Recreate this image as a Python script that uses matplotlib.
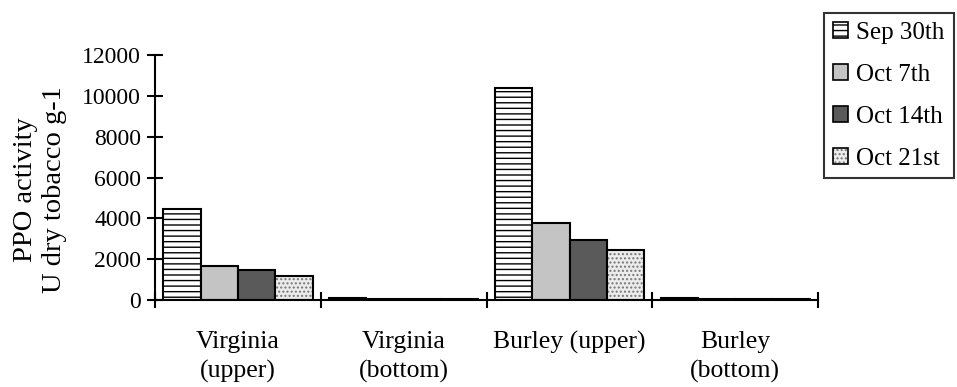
import matplotlib
matplotlib.use("Agg")
import matplotlib.pyplot as plt
import numpy as np

categories = ["Virginia\n(upper)", "Virginia\n(bottom)", "Burley (upper)", "Burley\n(bottom)"]
series_names = ["Sep 30th", "Oct 7th", "Oct 14th", "Oct 21st"]
sep30 = [4450, 90, 10400, 100]
oct7 = [1650, 40, 3750, 60]
oct14 = [1450, 40, 2950, 50]
oct21 = [1200, 70, 2450, 60]
yticks = [0, 2000, 4000, 6000, 8000, 10000, 12000]

plt.rcParams['font.family'] = ['Liberation Serif', 'DejaVu Serif']
plt.rcParams['hatch.linewidth'] = 1.0

fig = plt.figure(figsize=(9.57, 3.87), dpi=100)
ax = fig.add_axes([0.162, 0.2248, 0.693, 0.633])

series = [sep30, oct7, oct14, oct21]
faces = ['white', '#c4c4c4', '#5a5a5a', '#ececec']
hatches = ['---', '', '', '....']
hatch_colors = ['black', 'black', 'black', '#777777']
bw = 0.225
x = np.arange(len(categories))
for i, (vals, name) in enumerate(zip(series, series_names)):
    pos = x + 0.05 + bw * i + bw / 2
    bars = ax.bar(pos, vals, width=bw, facecolor=faces[i], edgecolor='black',
                  linewidth=1.5, hatch=hatches[i], label=name)
    for b in bars:
        b._hatch_color = matplotlib.colors.to_rgba(hatch_colors[i])

ax.set_xlim(0, 4)
ax.set_ylim(0, 12000)
ax.set_yticks(yticks)
ax.set_yticklabels([str(v) for v in yticks], fontsize=17)
ax.set_xticks([0, 1, 2, 3, 4])
ax.set_xticklabels([])
ax.set_xticks(x + 0.5, minor=True)
ax.set_xticklabels(categories, minor=True, fontsize=18.5, linespacing=1.4)
ax.tick_params(axis='x', which='minor', length=0, pad=22)
ax.tick_params(axis='both', which='major', direction='inout', length=12, width=1.5)
ax.tick_params(axis='y', pad=4)
for s in ['top', 'right']:
    ax.spines[s].set_visible(False)
for s in ['left', 'bottom']:
    ax.spines[s].set_linewidth(1.5)

fig.text(0.0415, 0.509, "PPO activity\nU dry tobacco g-1", rotation=90, ha='center', va='center',
         multialignment='center', fontsize=20.5, linespacing=1.2)

leg = ax.legend(loc='upper left', bbox_to_anchor=(0.861, 0.967), bbox_transform=fig.transFigure,
                fontsize=18, frameon=True, fancybox=False, edgecolor='black',
                handlelength=0.6, handleheight=0.6, handletextpad=0.35, labelspacing=0.8,
                borderpad=0.35, borderaxespad=0)
leg.get_frame().set_linewidth(1.5)
for h in leg.legend_handles:
    h.set_linewidth(1.2)

fig.savefig("out.png", dpi=100)
